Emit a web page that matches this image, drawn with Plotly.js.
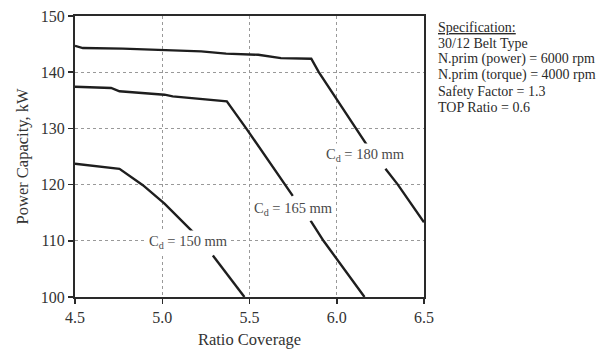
<!DOCTYPE html>
<html>
<head>
<meta charset="utf-8">
<script src="https://cdn.plot.ly/plotly-3.0.1.min.js"></script>
<style>html,body{margin:0;padding:0;background:#fff;}#chart{width:597px;height:352px;}</style>
</head>
<body>
<div id="chart"></div>
<script>
// Data (null marks a gap where the label sits)
const xCd180 = [4.5, 4.545, 4.774, 5.013, 5.223, 5.366, 5.55, 5.68, 5.854, 5.897, 6.107, 6.178, null, 6.279, 6.35, 6.5];
const yCd180 = [144.7, 144.3, 144.2, 143.9, 143.7, 143.3, 143.1, 142.5, 142.4, 140.0, 130.0, 126.8, null, 122.8, 120.0, 113.3];

const xCd165 = [4.5, 4.707, 4.755, 5.013, 5.06, 5.347, 5.37, 5.481, 5.70, 5.748, null, 5.85, 5.924, 6.159];
const yCd165 = [137.4, 137.2, 136.6, 136.0, 135.7, 134.9, 134.8, 130.0, 120.0, 118.0, null, 113.6, 110.0, 100.0];

const xCd150 = [4.5, 4.755, 4.889, 5.013, 5.175, null, 5.29, 5.471];
const yCd150 = [123.7, 122.8, 119.9, 116.6, 111.6, null, 107.4, 100.0];

const curveLabels = ['C<sub>d</sub> = 180 mm', 'C<sub>d</sub> = 165 mm', 'C<sub>d</sub> = 150 mm'];
const labelX = [6.165, 5.752, 5.15];
const labelY = [125.2, 115.6, 109.8];

const specLines = ['<u>Specification:</u>', '30/12 Belt Type', 'N.prim (power) = 6000 rpm',
  'N.prim (torque) = 4000 rpm', 'Safety Factor = 1.3', 'TOP Ratio = 0.6'];

const xTicks = [4.5, 5.0, 5.5, 6.0, 6.5];
const xTickText = ['4.5', '5.0', '5.5', '6.0', '6.5'];
const yTicks = [100, 110, 120, 130, 140, 150];

const FONT = 'Liberation Serif, Times New Roman, serif';
const lineStyle = {color: '#1e1e1e', width: 2.4};

const traces = [
  {x: xCd180, y: yCd180, mode: 'lines', line: lineStyle, connectgaps: false, hoverinfo: 'skip'},
  {x: xCd165, y: yCd165, mode: 'lines', line: lineStyle, connectgaps: false, hoverinfo: 'skip'},
  {x: xCd150, y: yCd150, mode: 'lines', line: lineStyle, connectgaps: false, hoverinfo: 'skip'}
];

const annotations = [];
curveLabels.forEach((t, i) => {
  annotations.push({x: labelX[i], y: labelY[i], xref: 'x', yref: 'y', text: t, showarrow: false,
    bgcolor: '#ffffff', borderpad: 2, font: {family: FONT, size: 14.5, color: '#4a4a4a'}});
});
const specTop = 27, specStep = 16;
const plotTop = 15.5, plotBottom = 296.7;
specLines.forEach((t, i) => {
  const py = specTop + i * specStep;
  annotations.push({xref: 'paper', yref: 'paper', x: (437 - 75) / 349, y: (plotBottom - py) / (plotBottom - plotTop),
    xanchor: 'left', yanchor: 'middle', text: t, showarrow: false, align: 'left', borderpad: 0,
    font: {family: FONT, size: 14, color: '#2a2a2a'}});
});

const axisCommon = {
  showgrid: true, gridcolor: '#999999', griddash: 'dot', gridwidth: 1,
  showline: true, linecolor: '#2a2a2a', linewidth: 2, mirror: true,
  ticks: 'outside', ticklen: 5, tickwidth: 1.5, tickcolor: '#2a2a2a',
  zeroline: false, tickfont: {family: FONT, size: 16, color: '#333333'}, fixedrange: true
};

const layout = {
  width: 597, height: 352,
  margin: {l: 75, r: 173, t: 15.5, b: 55.3},
  paper_bgcolor: '#ffffff', plot_bgcolor: '#ffffff',
  showlegend: false,
  font: {family: FONT, color: '#333333'},
  xaxis: Object.assign({}, axisCommon, {
    range: [4.5, 6.5], tickvals: xTicks, ticktext: xTickText,
    title: {text: 'Ratio Coverage', font: {family: FONT, size: 16.5, color: '#333333'}, standoff: 8}
  }),
  yaxis: Object.assign({}, axisCommon, {
    range: [100, 150], tickvals: yTicks,
    title: {text: 'Power Capacity, kW', font: {family: FONT, size: 16.5, color: '#333333'}, standoff: 8}
  }),
  annotations: annotations
};

Plotly.newPlot('chart', traces, layout, {displayModeBar: false, staticPlot: true});
</script>
</body>
</html>
